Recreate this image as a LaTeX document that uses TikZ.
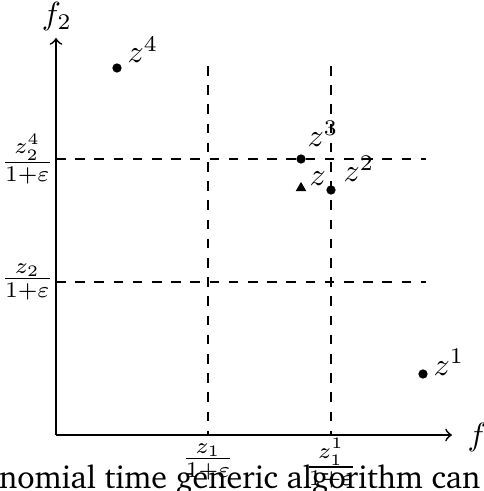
\documentclass[tikz,border=0pt]{standalone}
\usepackage[T1,TU]{fontenc}
\usetikzlibrary{shapes.geometric}
\begin{document}
\begin{tikzpicture}[x=0.3125pt,y=-0.3125pt,
  axisline/.style={line width=0.55pt,->},
  guide/.style={dashed,line width=0.35pt},
  ptdot/.style={circle,fill,inner sep=0pt,minimum size=2.9pt},
  pttri/.style={regular polygon,regular polygon sides=3,fill,inner sep=0pt,minimum size=3.8pt},
  lbl/.style={inner sep=0pt,anchor=base west},
  frac/.style={inner sep=0pt}]
\useasboundingbox (0,0) rectangle (484,491);
% guide coordinates
\coordinate (O) at (56,435);
\coordinate (xend) at (452,435);
\coordinate (yend) at (56,38);
\coordinate (v1t) at (208,66);
\coordinate (v1b) at (208,435);
\coordinate (v2t) at (331,66);
\coordinate (v2b) at (331,435);
\coordinate (h1l) at (56,159);
\coordinate (h1r) at (426,159);
\coordinate (h2l) at (56,282);
\coordinate (h2r) at (426,282);
% dashed guides
\draw[guide] (v1t) -- (v1b);
\draw[guide] (v2t) -- (v2b);
\draw[guide] (h1l) -- (h1r);
\draw[guide] (h2l) -- (h2r);
% axes
\draw[axisline] (O) -- (xend);
\draw[axisline] (O) -- (yend);
\node[inner sep=0pt] (f2) at (57,17) {$f_2$};
\node[inner sep=0pt,anchor=west] (f1) at (467,437) {$f_1$};
% axis fraction labels
\node[frac,anchor=east] (l1) at (54,159) {$\frac{z_2^4}{1+\varepsilon}$};
\node[frac,anchor=east] (l2) at (54,282) {$\frac{z_2}{1+\varepsilon}$};
\node[frac,anchor=north] (b1) at (208,443) {$\frac{z_1}{1+\varepsilon}$};
\node[frac,anchor=north] (b2) at (331,438) {$\frac{z_1^1}{1+\varepsilon}$};
% points
\node[ptdot] (p4) at (117,68) {};
\node[ptdot] (p3) at (301,159) {};
\node[ptdot] (p2) at (331,190) {};
\node[ptdot] (p1) at (423,374) {};
\node[pttri] (pz) at (301,188) {};
\node[lbl] (t4) at (127,63) {$z^4$};
\node[lbl] (t3) at (307,147) {$z^3$};
\node[lbl] (tz) at (309,186) {$z$};
\node[lbl] (t2) at (343,182) {$z^2$};
\node[lbl] (t1) at (433,375) {$z^1$};
% spill-over text
\node[inner sep=0pt,anchor=base east] (spill) at (481,488)
  {\fontencoding{T1}\fontfamily{bch}\fontsize{10}{12}\selectfont nomial time generic algorithm can};
\end{tikzpicture}
\end{document}
